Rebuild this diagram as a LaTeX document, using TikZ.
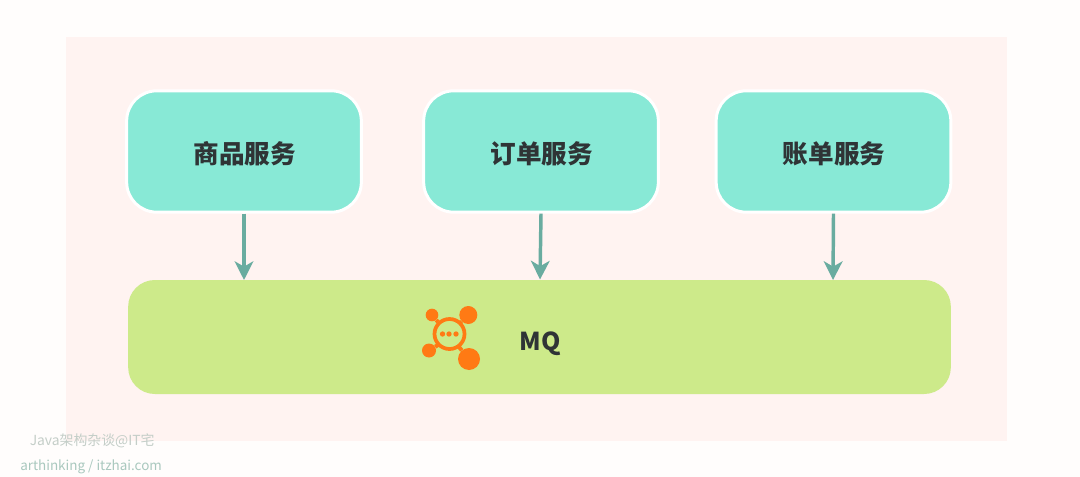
\documentclass[tikz,border=0pt]{standalone}
\usepackage{fontspec}
\setmainfont{Noto Sans CJK SC}
\usetikzlibrary{arrows.meta}
\definecolor{pagebg}{HTML}{FFFDFC}
\definecolor{panelbg}{HTML}{FFF3F1}
\definecolor{svc}{HTML}{88E9D6}
\definecolor{mqfill}{HTML}{CDEA8A}
\definecolor{arrowc}{HTML}{69ACA0}
\definecolor{ink}{HTML}{2F3436}
\definecolor{iconc}{HTML}{FF7A14}
\definecolor{wm}{HTML}{C4CEC8}
\definecolor{wmb}{HTML}{A9C8BE}
\newcommand{\svclabel}[1]{\hspace{1pt}#1}
\tikzset{
  svcbox/.style={draw=white,line width=2.25pt,fill=svc,rounded corners=22.5pt,minimum width=176pt,minimum height=91pt,inner sep=0pt,text height=20pt,text depth=2.4pt,text=ink,font=\fontsize{19.2pt}{22pt}\selectfont\bfseries},
  mqbox/.style={fill=mqfill,rounded corners=20pt,minimum width=617pt,minimum height=85.5pt,inner sep=0pt},
  flow/.style={draw=arrowc,line width=2.6pt,-{Stealth[length=14pt,width=14pt,inset=4pt]}},
  iconball/.style={circle,fill=iconc,inner sep=0pt},
  wmark/.style={inner sep=0pt,anchor=west}
}
\begin{document}
\begin{tikzpicture}[x=0.75pt,y=-0.75pt]
\useasboundingbox (0,0) rectangle (1080,477);
\fill[pagebg] (0,0) rectangle (1080,477);
\fill[panelbg] (66,37) rectangle (1007,441);
\node[svcbox] (goods) at (244,151.5) {\svclabel{商品服务}};
\node[svcbox] (order) at (541,151.5) {\svclabel{订单服务}};
\node[svcbox] (bill) at (833.5,151.5) {\svclabel{账单服务}};
\node[mqbox] (mq) at (539.5,337) {};
\coordinate (t1) at (244,280);
\coordinate (t2) at (540,279.5);
\coordinate (t3) at (833,280);
\draw[flow] (goods.south) -- (t1);
\draw[flow] (order.south) -- (t2);
\draw[flow] (bill.south) -- (t3);
% icon
\coordinate (hub) at (449.5,334);
\node[iconball,minimum size=9.5pt] (b1) at (432,315) {};
\node[iconball,minimum size=13.5pt] (b2) at (468.3,315) {};
\node[iconball,minimum size=10.5pt] (b3) at (429,350.5) {};
\node[iconball,minimum size=16.5pt] (b4) at (469,359) {};
\draw[iconc,line width=2.8pt] (hub) circle (15);
\draw[iconc,line width=3pt] (b1) -- (438,322) (b2) -- (460,323) (b3) -- (438,345) (b4) -- (459,347);
\node[iconball,minimum size=4pt] (d1) at (442.5,334) {};
\node[iconball,minimum size=4pt] (d2) at (449,334) {};
\node[iconball,minimum size=4pt] (d3) at (456,334) {};
\node[inner sep=0pt,text=ink,font=\fontsize{18.5pt}{22pt}\selectfont\bfseries] (mqt) at (540,344) {MQ};
\node[wmark,text=wm,font=\fontsize{10.4pt}{12pt}\selectfont] (w1) at (29.5,441) {Java架构杂谈@IT宅};
\node[wmark,text=wmb,font=\fontsize{10.1pt}{12pt}\selectfont] (w2) at (20,467) {arthinking / itzhai.com};
\end{tikzpicture}
\end{document}
